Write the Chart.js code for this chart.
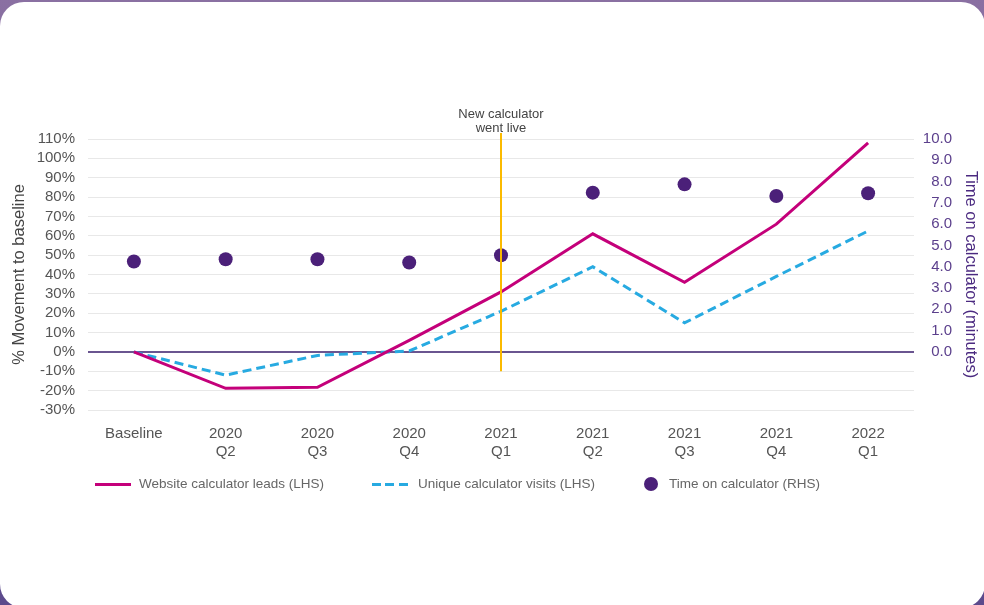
<!DOCTYPE html>
<html>
<head>
<meta charset="utf-8">
<script src="https://cdn.jsdelivr.net/npm/chart.js@4"></script>
<style>
  html, body { margin:0; padding:0; }
  body { width:984px; height:605px; overflow:hidden; background:linear-gradient(180deg,#8a70a2 0%,#6a5592 60%,#5c4a8c 100%); position:relative; font-family:"Liberation Sans", Arial, Helvetica, sans-serif; }
  #card { position:absolute; left:0; top:2px; width:985px; height:606px; background:#fff; border-radius:24px; }
  #c { position:absolute; left:0; top:0; }
  .lg { position:absolute; font-size:13.5px; color:#666; line-height:16px; white-space:nowrap; }
</style>
</head>
<body>
<div id="card"></div>
<canvas id="c" width="984" height="605"></canvas>
<div style="position:absolute;left:95px;top:482.5px;width:36px;height:3px;background:#c4007a"></div>
<div class="lg" style="left:139px;top:476px">Website calculator leads (LHS)</div>
<div style="position:absolute;left:372px;top:482.5px;width:36px;height:3px;background:repeating-linear-gradient(to right,#27aae1 0 9px,transparent 9px 13.5px)"></div>
<div class="lg" style="left:418px;top:476px">Unique calculator visits (LHS)</div>
<div style="position:absolute;left:644px;top:477px;width:14px;height:14px;border-radius:50%;background:#4b2079"></div>
<div class="lg" style="left:669px;top:476px">Time on calculator (RHS)</div>
<script>
const categories = [["Baseline"],["2020","Q2"],["2020","Q3"],["2020","Q4"],["2021","Q1"],["2021","Q2"],["2021","Q3"],["2021","Q4"],["2022","Q1"]];
const leads = [0, -18.8, -18.3, 6, 31, 61, 36, 66, 108];
const visits = [0, -12, -1.8, 0.5, 21, 44, 15, 39, 62.5];
const timeOnCalc = [4.25, 4.35, 4.35, 4.2, 4.54, 7.48, 7.87, 7.32, 7.45];
const leftTicks = {min:-30, max:110, step:10};
const rightTickValues = [0,1,2,3,4,5,6,7,8,9,10];
const annotationIndex = 4;
const annotationLines = ["New calculator","went live"];

const FONT = '"Liberation Sans", Arial, Helvetica, sans-serif';

const annotationPlugin = {
  id:'annot',
  afterDatasetsDraw(chart){
    const {ctx, scales:{x, y}} = chart;
    const px = Math.round(x.getPixelForValue(annotationIndex));
    const yb = y.getPixelForValue(-10);
    const yt = chart.chartArea.top - 6;
    ctx.save();
    ctx.strokeStyle = '#fbba00';
    ctx.lineWidth = 2;
    ctx.beginPath(); ctx.moveTo(px, yt); ctx.lineTo(px, yb); ctx.stroke();
    ctx.fillStyle = '#444';
    ctx.font = '13px ' + FONT;
    ctx.textAlign = 'center';
    ctx.textBaseline = 'alphabetic';
    ctx.fillText(annotationLines[0], px, yt - 15);
    ctx.fillText(annotationLines[1], px, yt - 1);
    ctx.restore();
  }
};

new Chart(document.getElementById('c'), {
  type:'line',
  data:{
    labels: categories,
    datasets:[
      { label:'Time on calculator (RHS)', data: timeOnCalc, yAxisID:'y1', showLine:false,
        pointRadius:7, pointHoverRadius:7, pointBackgroundColor:'#4b2079', pointBorderWidth:0, borderColor:'#4b2079', backgroundColor:'#4b2079', order:0 },
      { label:'Website calculator leads (LHS)', data: leads, yAxisID:'y', borderColor:'#c4007a', borderWidth:3,
        pointRadius:0, tension:0, fill:false, order:1, borderJoinStyle:'miter' },
      { label:'Unique calculator visits (LHS)', data: visits, yAxisID:'y', borderColor:'#27aae1', borderWidth:3,
        borderDash:[9,5], pointRadius:0, tension:0, fill:false, order:2 }
    ]
  },
  options:{
    responsive:false,
    animation:false,
    layout:{ padding:{ top:139, left:0, right:32, bottom:0 } },
    plugins:{ legend:{display:false}, tooltip:{enabled:false} },
    scales:{
      x:{
        offset:true,
        grid:{display:false, drawTicks:false},
        border:{display:false},
        ticks:{ color:'#555', font:{family:FONT, size:15}, padding:15, maxRotation:0, autoSkip:false },
        afterFit(s){ s.height = 195; }
      },
      y:{
        position:'left',
        min:leftTicks.min, max:leftTicks.max,
        ticks:{ stepSize:leftTicks.step, autoSkip:false, color:'#555', font:{family:FONT, size:15}, padding:13,
          callback:v=>v+'%' },
        grid:{ drawTicks:false,
          color:c=> c.tick && c.tick.value===0 ? '#6a5590' : '#e8e8e8',
          lineWidth:c=> c.tick && c.tick.value===0 ? 2 : 1 },
        border:{display:false},
        title:{ display:true, text:'% Movement to baseline', color:'#444', font:{family:FONT, size:16.5}, padding:{top:10,bottom:0} },
        afterFit(s){ s.width = 88; }
      },
      y1:{
        position:'right',
        min: leftTicks.min/(leftTicks.max)*10, max:10,
        afterBuildTicks(s){ s.ticks = rightTickValues.map(v=>({value:v})); },
        ticks:{ autoSkip:false, color:'#5b3f8c', font:{family:FONT, size:15}, padding:8, crossAlign:'far',
          callback:v=>Number(v).toFixed(1) },
        grid:{display:false, drawTicks:false},
        border:{display:false},
        title:{ display:true, text:'Time on calculator (minutes)', color:'#4b2a80', font:{family:FONT, size:16.5}, padding:{top:-28,bottom:0} },
        afterFit(s){ s.width = 38; }
      }
    }
  },
  plugins:[annotationPlugin]
});
</script>
</body>
</html>
